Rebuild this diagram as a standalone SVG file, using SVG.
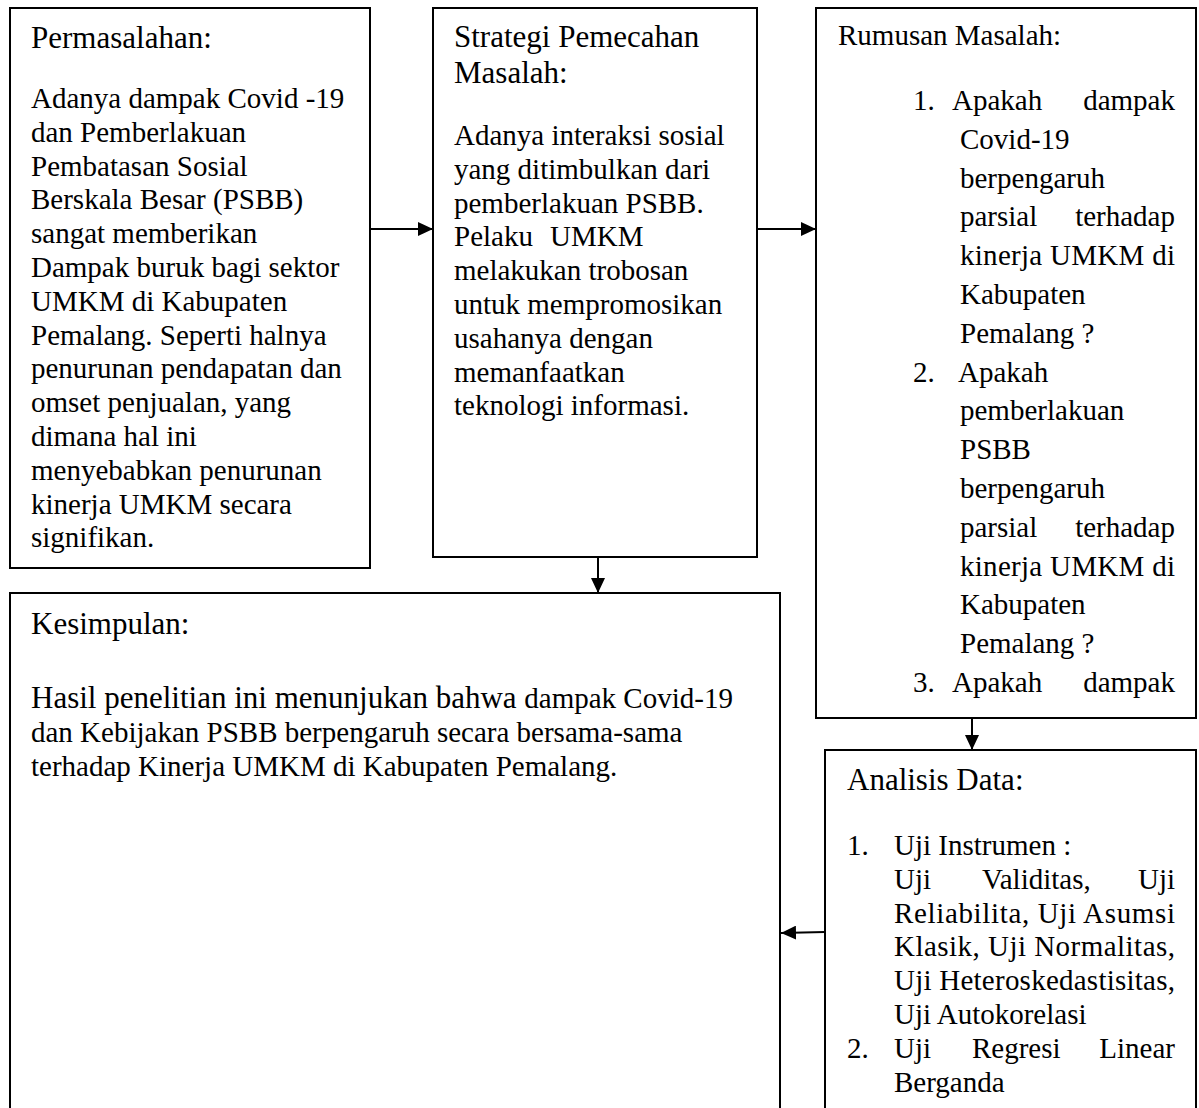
<svg xmlns="http://www.w3.org/2000/svg" width="1199" height="1108" viewBox="0 0 1199 1108">
<defs>
<style>
.box{fill:#fff;stroke:#000;stroke-width:2}
.con{stroke:#000;stroke-width:2;fill:none;marker-end:url(#ah)}
text{font-family:"Liberation Serif","Times New Roman",serif;fill:#000}
.h{font-size:31px}
.b{font-size:29px}
.e{text-anchor:end}
</style>
<marker id="ah" markerUnits="userSpaceOnUse" markerWidth="16" markerHeight="14" refX="15" refY="7" orient="auto">
<path d="M0,0 L15,7 L0,14 z" fill="#000"/>
</marker>
</defs>
<rect width="1199" height="1108" fill="#fff"/>

<g id="permasalahan">
<rect class="box" x="10" y="8" width="360" height="560"/>
<text class="h" x="31" y="48">Permasalahan:</text>
<text class="b" x="31" y="108">Adanya dampak Covid -19</text>
<text class="b" x="31" y="141.8">dan Pemberlakuan</text>
<text class="b" x="31" y="175.6">Pembatasan Sosial</text>
<text class="b" x="31" y="209.4">Berskala Besar (PSBB)</text>
<text class="b" x="31" y="243.2">sangat memberikan</text>
<text class="b" x="31" y="277">Dampak buruk bagi sektor</text>
<text class="b" x="31" y="310.8">UMKM di Kabupaten</text>
<text class="b" x="31" y="344.6">Pemalang. Seperti halnya</text>
<text class="b" x="31" y="378.4">penurunan pendapatan dan</text>
<text class="b" x="31" y="412.2">omset penjualan, yang</text>
<text class="b" x="31" y="446">dimana hal ini</text>
<text class="b" x="31" y="479.8">menyebabkan penurunan</text>
<text class="b" x="31" y="513.6">kinerja UMKM secara</text>
<text class="b" x="31" y="547.4">signifikan.</text>
</g>

<g id="strategi">
<rect class="box" x="433" y="8" width="324" height="549"/>
<text class="h" x="454" y="47">Strategi Pemecahan</text>
<text class="h" x="454" y="83">Masalah:</text>
<text class="b" x="454" y="145">Adanya interaksi sosial</text>
<text class="b" x="454" y="178.8">yang ditimbulkan dari</text>
<text class="b" x="454" y="212.6">pemberlakuan PSBB.</text>
<text class="b" x="454" y="246.4">Pelaku</text>
<text class="b" x="550" y="246.4">UMKM</text>
<text class="b" x="454" y="280.2">melakukan trobosan</text>
<text class="b" x="454" y="314">untuk mempromosikan</text>
<text class="b" x="454" y="347.8">usahanya dengan</text>
<text class="b" x="454" y="381.6">memanfaatkan</text>
<text class="b" x="454" y="415.4">teknologi informasi.</text>
</g>

<g id="rumusan">
<rect class="box" x="816" y="8" width="380" height="710"/>
<text class="b" x="838" y="45">Rumusan Masalah:</text>
<text class="b" x="913" y="110">1.</text>
<text class="b" x="952" y="110">Apakah</text>
<text class="b e" x="1175" y="110">dampak</text>
<text class="b" x="960" y="148.8">Covid-19</text>
<text class="b" x="960" y="187.6">berpengaruh</text>
<text class="b" x="960" y="226.4">parsial</text>
<text class="b e" x="1175" y="226.4">terhadap</text>
<text class="b" x="960" y="265.2" textLength="215" lengthAdjust="spacing">kinerja UMKM di</text>
<text class="b" x="960" y="304">Kabupaten</text>
<text class="b" x="960" y="342.8">Pemalang ?</text>
<text class="b" x="913" y="381.6">2.</text>
<text class="b" x="958" y="381.6">Apakah</text>
<text class="b" x="960" y="420.4">pemberlakuan</text>
<text class="b" x="960" y="459.2">PSBB</text>
<text class="b" x="960" y="498">berpengaruh</text>
<text class="b" x="960" y="536.8">parsial</text>
<text class="b e" x="1175" y="536.8">terhadap</text>
<text class="b" x="960" y="575.6" textLength="215" lengthAdjust="spacing">kinerja UMKM di</text>
<text class="b" x="960" y="614.4">Kabupaten</text>
<text class="b" x="960" y="653.2">Pemalang ?</text>
<text class="b" x="913" y="692">3.</text>
<text class="b" x="952" y="692">Apakah</text>
<text class="b e" x="1175" y="692">dampak</text>
</g>

<g id="kesimpulan">
<rect class="box" x="10" y="593" width="770" height="540"/>
<text class="h" x="31" y="634">Kesimpulan:</text>
<text x="31" y="708"><tspan class="h">Hasil penelitian ini menunjukan bahwa </tspan><tspan class="b">dampak Covid-19</tspan></text>
<text class="b" x="31" y="742">dan Kebijakan PSBB berpengaruh secara bersama-sama</text>
<text class="b" x="31" y="776">terhadap Kinerja UMKM di Kabupaten Pemalang.</text>
</g>

<g id="analisis">
<rect class="box" x="825" y="750" width="371" height="380"/>
<text class="h" x="847" y="790">Analisis Data:</text>
<text class="b" x="847" y="855">1.</text>
<text class="b" x="894" y="855">Uji Instrumen :</text>
<text class="b" x="894" y="888.8">Uji</text>
<text class="b" x="982" y="888.8">Validitas,</text>
<text class="b e" x="1175" y="888.8">Uji</text>
<text class="b" x="894" y="922.6" textLength="281" lengthAdjust="spacing">Reliabilita, Uji Asumsi</text>
<text class="b" x="894" y="956.4" textLength="281" lengthAdjust="spacing">Klasik, Uji Normalitas,</text>
<text class="b" x="894" y="990.2" textLength="281" lengthAdjust="spacing">Uji Heteroskedastisitas,</text>
<text class="b" x="894" y="1024">Uji Autokorelasi</text>
<text class="b" x="847" y="1057.8">2.</text>
<text class="b" x="894" y="1057.8">Uji</text>
<text class="b" x="972" y="1057.8">Regresi</text>
<text class="b e" x="1175" y="1057.8">Linear</text>
<text class="b" x="894" y="1091.6">Berganda</text>
</g>

<g id="connectors">
<line class="con" x1="371" y1="229" x2="433" y2="229"/>
<line class="con" x1="757" y1="229" x2="816" y2="229"/>
<line class="con" x1="598" y1="557" x2="598" y2="593"/>
<line class="con" x1="972" y1="718" x2="972" y2="750"/>
<line class="con" x1="825" y1="932" x2="781" y2="933"/>
</g>
</svg>
